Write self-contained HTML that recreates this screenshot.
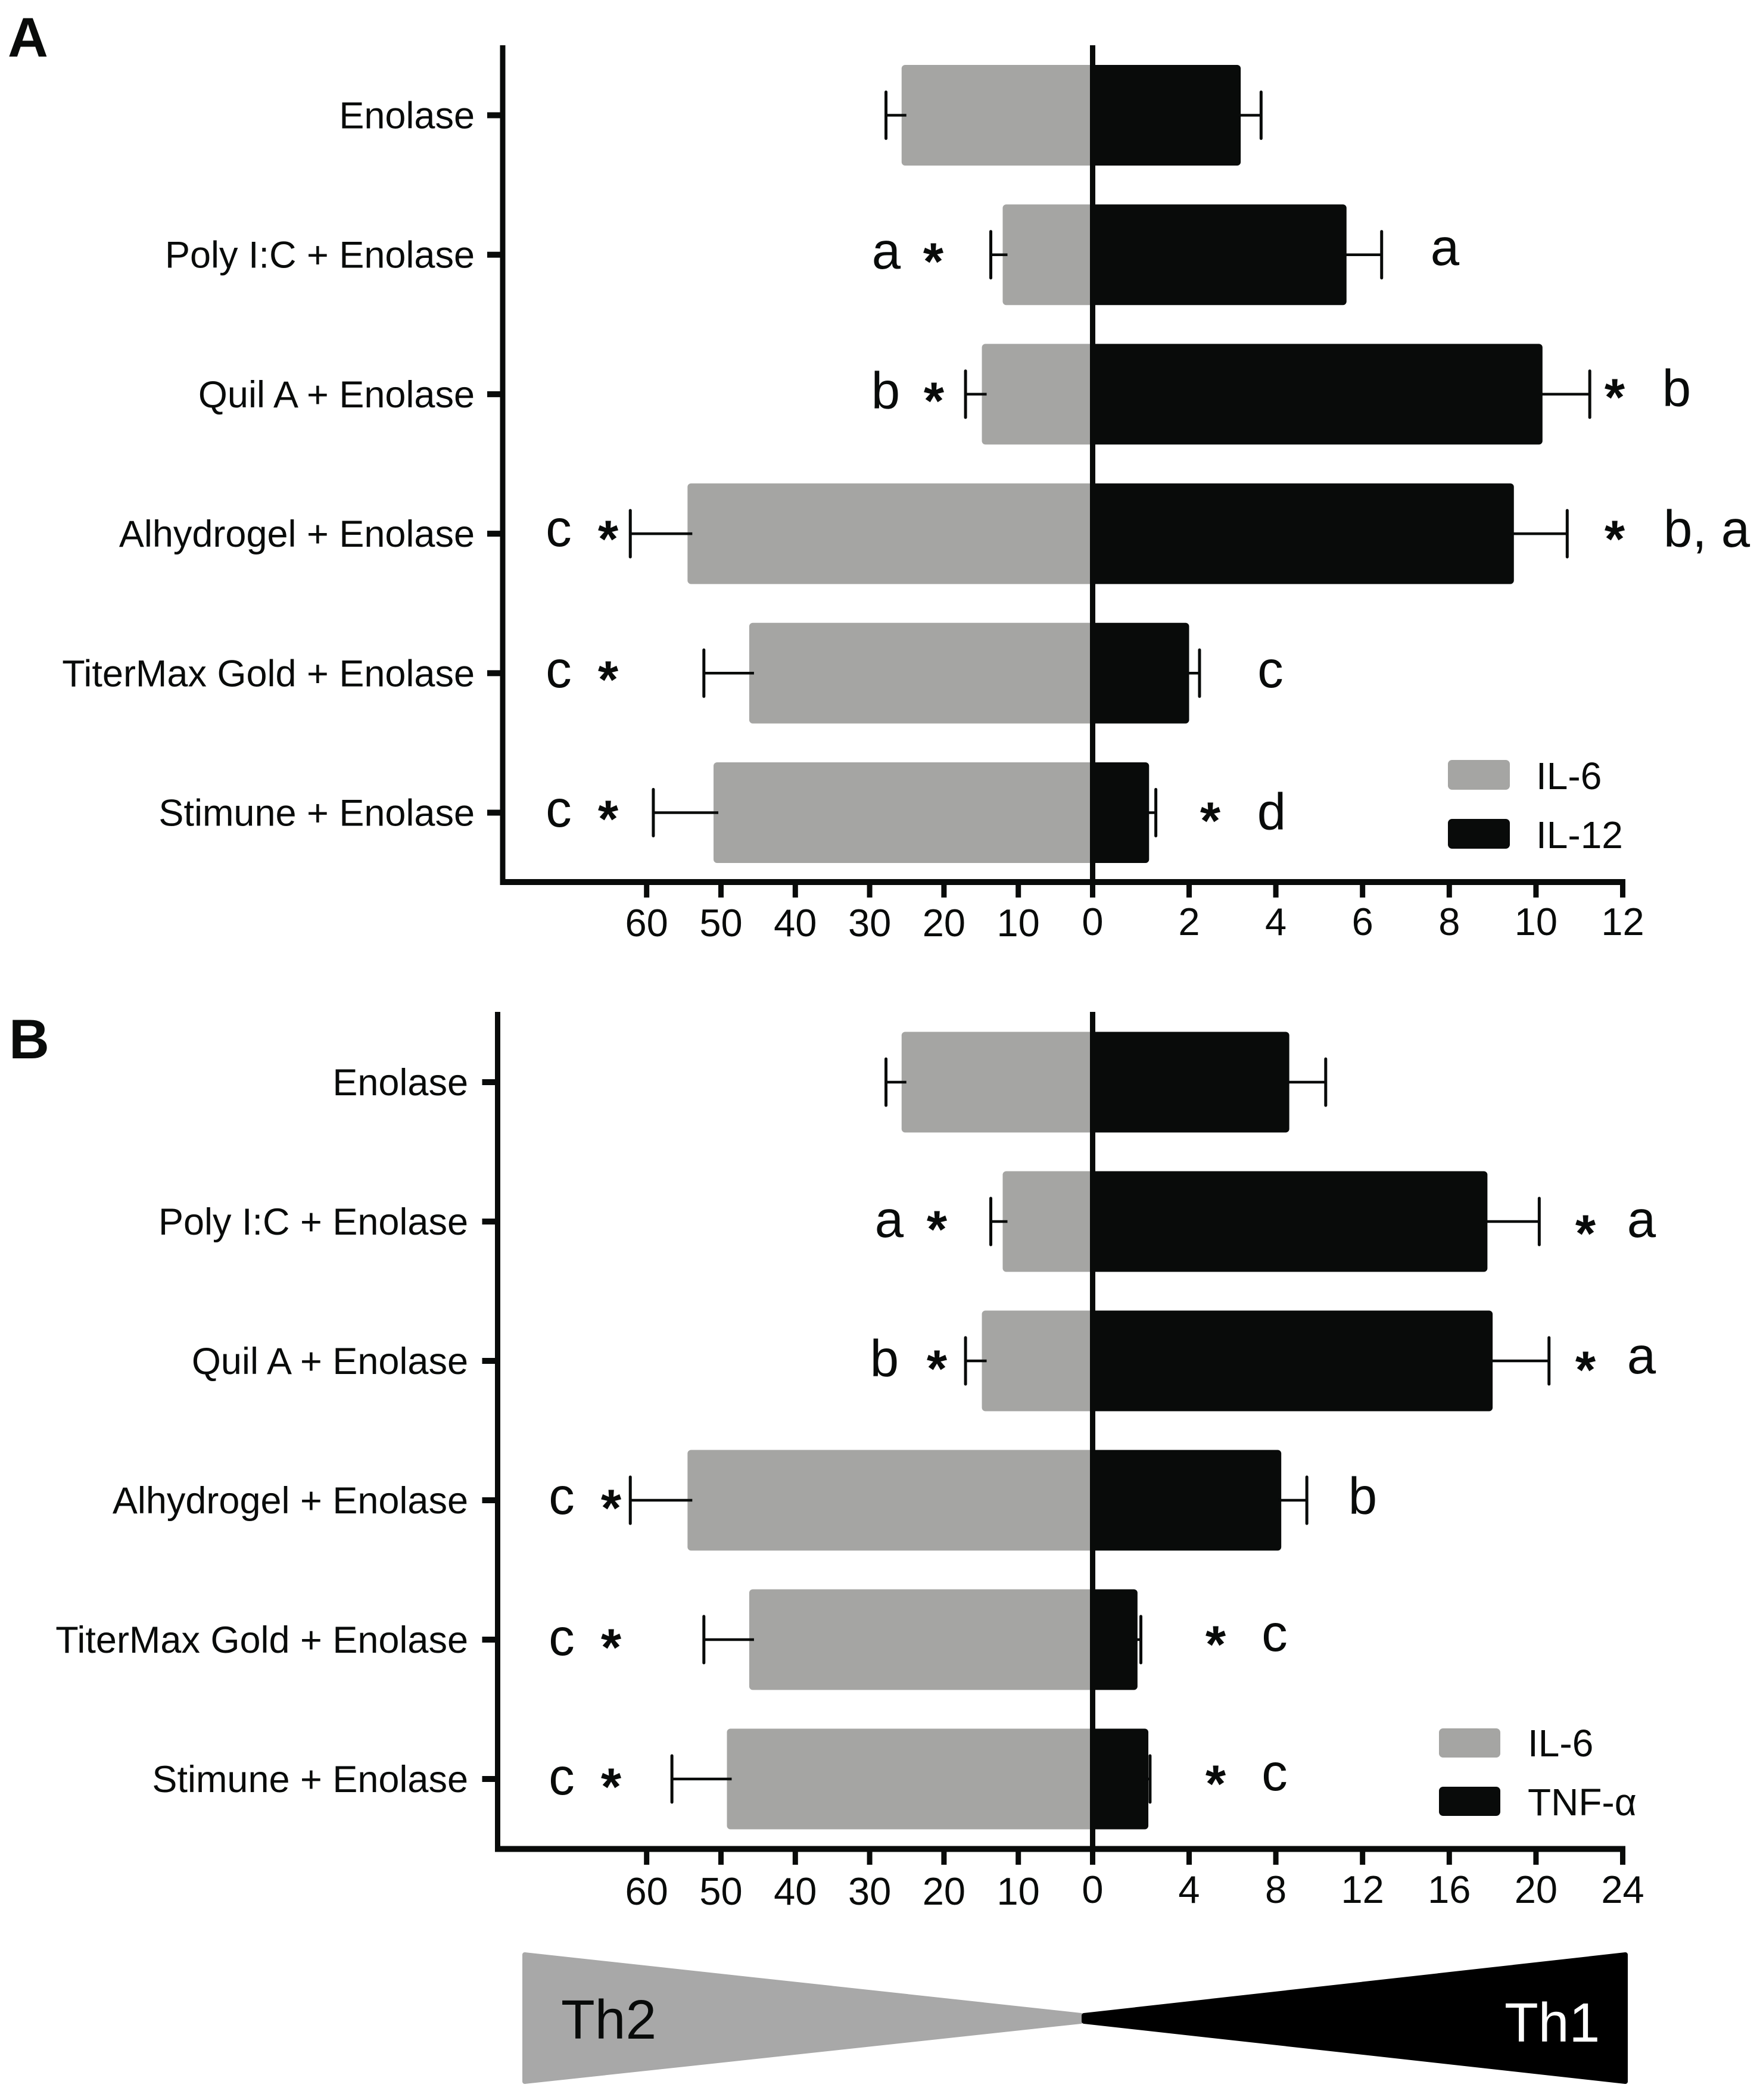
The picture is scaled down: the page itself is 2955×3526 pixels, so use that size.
<!DOCTYPE html>
<html lang="en">
<head>
<meta charset="utf-8">
<title>IL-6 vs IL-12 and TNF-α responses</title>
<style>
html,body{margin:0;padding:0;background:#fff;}
svg{display:block;}
text{font-family:"Liberation Sans",Arial,sans-serif;fill:#090b0a;}
.cat,.tick,.leg{font-size:64px;}
.cat{font-size:63px;text-anchor:end;}
.tick{font-size:65px;text-anchor:middle;}
.let{font-size:87px;text-anchor:middle;}
.star{font-size:88px;font-weight:bold;text-anchor:middle;}
.panel{font-size:94px;font-weight:bold;}
</style>
</head>
<body>
<svg id="chart" xmlns="http://www.w3.org/2000/svg" width="2955" height="3526" viewBox="0 0 2955 3526">
  <rect x="0" y="0" width="2955" height="3526" fill="#ffffff"/>
  <g id="panel-a"></g>
  <g id="panel-b"></g>

  <text class="panel" x="13" y="95">A</text>
  <text class="panel" x="15" y="1777">B</text>

  <g>
    <text class="let" x="1488" y="451">a</text>
    <text class="let" x="2426" y="445">a</text>
    <text class="let" x="1487" y="686">b</text>
    <text class="let" x="2815" y="682">b</text>
    <text class="let" x="938" y="917">c</text>
    <text class="let" x="2793" y="918" style="text-anchor:start">b, a</text>
    <text class="let" x="938" y="1154">c</text>
    <text class="let" x="2133" y="1154">c</text>
    <text class="let" x="938" y="1388">c</text>
    <text class="let" x="2135" y="1393">d</text>
  </g>
  <g>
    <text class="star" x="1567" y="469">*</text>
    <text class="star" x="1568" y="703">*</text>
    <text class="star" x="2711" y="697">*</text>
    <text class="star" x="1021" y="935">*</text>
    <text class="star" x="2711" y="935">*</text>
    <text class="star" x="1021" y="1171">*</text>
    <text class="star" x="1021" y="1405">*</text>
    <text class="star" x="2032" y="1408">*</text>
  </g>

  <g>
    <text class="let" x="1493" y="2077">a</text>
    <text class="let" x="2756" y="2077">a</text>
    <text class="let" x="1485" y="2311">b</text>
    <text class="let" x="2756" y="2306">a</text>
    <text class="let" x="943" y="2542">c</text>
    <text class="let" x="2288" y="2542">b</text>
    <text class="let" x="943" y="2779">c</text>
    <text class="let" x="2140" y="2772">c</text>
    <text class="let" x="943" y="3013">c</text>
    <text class="let" x="2140" y="3006">c</text>
  </g>
  <g>
    <text class="star" x="1573" y="2094">*</text>
    <text class="star" x="2662" y="2101">*</text>
    <text class="star" x="1573" y="2328">*</text>
    <text class="star" x="2662" y="2330">*</text>
    <text class="star" x="1026" y="2562">*</text>
    <text class="star" x="1026" y="2796">*</text>
    <text class="star" x="2041" y="2791">*</text>
    <text class="star" x="1026" y="3030">*</text>
    <text class="star" x="2041" y="3025">*</text>
  </g>

  <g>
    <rect x="2431" y="1276" width="104" height="50" rx="7" fill="#a5a5a3"/>
    <text class="leg" x="2579" y="1325">IL-6</text>
    <rect x="2431" y="1375" width="104" height="50" rx="7" fill="#090b0a"/>
    <text class="leg" x="2579" y="1424">IL-12</text>
  </g>
  <g>
    <rect x="2416" y="2902" width="103" height="49" rx="7" fill="#a5a5a3"/>
    <text class="leg" x="2565" y="2949">IL-6</text>
    <rect x="2416" y="3000" width="103" height="49" rx="7" fill="#090b0a"/>
    <text class="leg" x="2565" y="3048">TNF-α</text>
  </g>

  <g>
    <polygon points="881,3282 1815,3384 1815,3394 881,3495" fill="#a8a8a8" stroke="#a8a8a8" stroke-width="8" stroke-linejoin="round"/>
    <polygon points="2729,3282 1820,3384 1820,3394 2729,3495" fill="#000000" stroke="#000000" stroke-width="8" stroke-linejoin="round"/>
    <text x="942" y="3423" style="font-size:93px;">Th2</text>
    <text x="2526" y="3428" style="font-size:93px;fill:#ffffff;">Th1</text>
  </g>
</svg>
<script>
// --- data ---
const categories = ["Enolase", "Poly I:C + Enolase", "Quil A + Enolase", "Alhydrogel + Enolase", "TiterMax Gold + Enolase", "Stimune + Enolase"];
const leftTicks = [60, 50, 40, 30, 20, 10, 0];
const rightTicksA = [0, 2, 4, 6, 8, 10, 12];
const rightTicksB = [0, 4, 8, 12, 16, 20, 24];

const il6ValuesA = [25.7, 12.1, 14.9, 54.5, 46.2, 51.0];
const il6UpperA = [27.8, 13.7, 17.1, 62.2, 52.3, 59.1];
const il12ValuesA = [3.19, 5.63, 10.15, 9.49, 2.0, 1.17];
const il12UpperA = [3.66, 6.44, 11.24, 10.72, 2.24, 1.31];

const il6ValuesB = [25.7, 12.1, 14.9, 54.5, 46.2, 49.2];
const il6UpperB = [27.8, 13.7, 17.1, 62.2, 52.3, 56.6];
const tnfValuesB = [8.62, 17.76, 18.0, 8.25, 1.86, 2.31];
const tnfUpperB = [10.3, 20.15, 20.6, 9.43, 2.0, 2.38];

const GREY = '#a5a5a3';
const BLACK = '#090b0a';
const NS = 'http://www.w3.org/2000/svg';

// --- axis functions ---
const ZERO_X = 1834.5;
function xLeft(v) { return ZERO_X - v * 12.48; }
// the printed right axis has a wider first interval than the rest
function makeXRight(ticks) {
  const first = ticks[1];
  const last = ticks[ticks.length - 1];
  return function (v) {
    if (v <= first) return ZERO_X + (v / first) * 162;
    return ZERO_X + 162 + ((v - first) / (last - first)) * 728;
  };
}

function shape(parent, tag, attrs) {
  const el = document.createElementNS(NS, tag);
  for (const k in attrs) el.setAttribute(k, attrs[k]);
  parent.appendChild(el);
  return el;
}

function drawPanel(cfg) {
  const g = document.getElementById(cfg.id);
  const xRight = makeXRight(cfg.rightTicks);
  const yRow = function (i) { return cfg.firstRow + i * cfg.rowStep; };
  let el;

  categories.forEach(function (name, i) {
    const y = yRow(i);

    // left bar
    const lx = xLeft(cfg.leftValues[i]);
    el = shape(g, 'rect', { x: lx, y: y - 84.5, width: ZERO_X + 6 - lx, height: 169, rx: 6, fill: GREY });
    
    

    // left whisker
    const lu = xLeft(cfg.leftUpper[i]);
    el = shape(g, 'line', { x1: lu, y1: y, x2: lx + 8, y2: y, stroke: BLACK, 'stroke-width': 4.5 });
    
    
    el = shape(g, 'line', { x1: lu, y1: y - 39, x2: lu, y2: y + 39, stroke: BLACK, 'stroke-width': 5, 'stroke-linecap': 'round' });
    
    

    // right bar
    const rx = xRight(cfg.rightValues[i]);
    el = shape(g, 'rect', { x: ZERO_X - 4, y: y - 84.5, width: rx - ZERO_X + 4, height: 169, rx: 6, fill: BLACK });
    
    

    // right whisker
    const ru = xRight(cfg.rightUpper[i]);
    el = shape(g, 'line', { x1: rx - 5, y1: y, x2: ru, y2: y, stroke: BLACK, 'stroke-width': 4.5 });
    
    
    el = shape(g, 'line', { x1: ru, y1: y - 39, x2: ru, y2: y + 39, stroke: BLACK, 'stroke-width': 5, 'stroke-linecap': 'round' });
    
    

    // category tick + label
    el = shape(g, 'rect', { x: cfg.yAxisX - 4 - 22, y: y - 5, width: 23, height: 10, fill: BLACK });
    
    
    el = shape(g, 'text', { class: 'cat', x: cfg.labelRight, y: y + 22 });
    el.textContent = name;
    
    
  });

  // zero line
  el = shape(g, 'rect', { x: ZERO_X - 4.5, y: cfg.top, width: 9, height: cfg.axisY - cfg.top, fill: BLACK });
  
  

  // y axis
  el = shape(g, 'rect', { x: cfg.yAxisX - 4.5, y: cfg.top, width: 9, height: cfg.axisY + 5 - cfg.top, fill: BLACK });
  
  

  // x axis
  el = shape(g, 'rect', { x: cfg.yAxisX - 4.5, y: cfg.axisY - 5, width: 2729 - cfg.yAxisX + 4.5, height: 10, fill: BLACK });
  
  

  // left ticks
  leftTicks.forEach(function (t) {
    const x = xLeft(t);
    el = shape(g, 'rect', { x: x - 4.5, y: cfg.axisY, width: 9, height: cfg.tickBottom - cfg.axisY, fill: BLACK });
    
    
    if (t !== 0) {
      el = shape(g, 'text', { class: 'tick', x: x, y: cfg.leftTickBase });
      el.textContent = t;
      
      
    }
  });

  // right ticks
  cfg.rightTicks.forEach(function (t) {
    const x = xRight(t);
    if (t !== 0) {
      el = shape(g, 'rect', { x: x - 4.5, y: cfg.axisY, width: 9, height: cfg.tickBottom - cfg.axisY, fill: BLACK });
      
      
    }
    el = shape(g, 'text', { class: 'tick', x: x, y: cfg.rightTickBase });
    el.textContent = t;
    
    
  });
}

drawPanel({
  id: 'panel-a', rightName: 'il12', rightTicks: rightTicksA,
  leftValues: il6ValuesA, leftUpper: il6UpperA, rightValues: il12ValuesA, rightUpper: il12UpperA,
  firstRow: 193.5, rowStep: 234.2, top: 76, axisY: 1481, tickBottom: 1507,
  yAxisX: 844, labelRight: 797, leftTickBase: 1572, rightTickBase: 1570
});
drawPanel({
  id: 'panel-b', rightName: 'tnf', rightTicks: rightTicksB,
  leftValues: il6ValuesB, leftUpper: il6UpperB, rightValues: tnfValuesB, rightUpper: tnfUpperB,
  firstRow: 1817, rowStep: 234, top: 1699, axisY: 3104.5, tickBottom: 3131,
  yAxisX: 835.5, labelRight: 786, leftTickBase: 3198, rightTickBase: 3195
});
</script>
</body>
</html>
